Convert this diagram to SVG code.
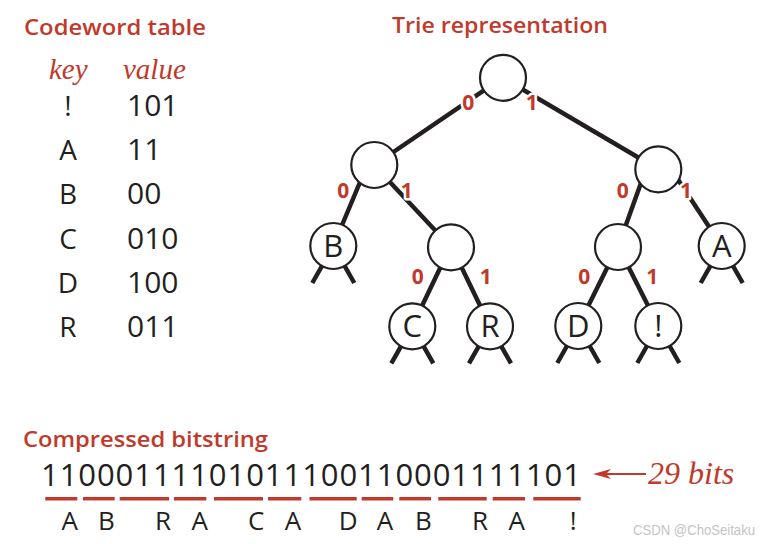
<svg xmlns="http://www.w3.org/2000/svg" width="766" height="544" viewBox="0 0 766 544">
<style>
.title{font-family:"Open Sans","Noto Sans",sans-serif;font-weight:600;font-size:22px;fill:#c0392b}
.ital{font-family:"Liberation Serif",serif;font-style:italic;fill:#c0392b}
.body{font-family:"Open Sans","Noto Sans",sans-serif;fill:#231f20}
.lbl{font-family:"Open Sans","Noto Sans",sans-serif;font-weight:700;font-size:21px;fill:#c0392b;stroke:#fff;stroke-width:5;paint-order:stroke;stroke-linejoin:round;text-anchor:middle}
.edge{stroke:#231f20;stroke-width:4.5;fill:none}
.node{fill:#fff;stroke:#231f20;stroke-width:2.2}
.nl{font-family:"Open Sans","Noto Sans",sans-serif;font-size:31px;fill:#231f20;text-anchor:middle}
.ul{stroke:#c0392b;stroke-width:3.5}
.lt{font-family:"Open Sans","Noto Sans",sans-serif;font-size:26px;fill:#231f20;text-anchor:middle}
</style>
<rect width="766" height="544" fill="#fff"/>

<g id="codeword-table">
<text class="title" x="24" y="35" textLength="182" lengthAdjust="spacingAndGlyphs">Codeword table</text>
<text class="ital" x="49" y="79" font-size="29">key</text>
<text class="ital" x="123" y="79" font-size="29">value</text>
<g class="body" font-size="28">
<text x="68" y="116" text-anchor="middle">!</text><text x="127" y="116" font-size="30">101</text>
<text x="68" y="159.5" text-anchor="middle">A</text><text x="127" y="159.5" font-size="30">11</text>
<text x="68" y="204" text-anchor="middle">B</text><text x="127" y="204" font-size="30">00</text>
<text x="68" y="248.5" text-anchor="middle">C</text><text x="127" y="248.5" font-size="30">010</text>
<text x="68" y="293" text-anchor="middle">D</text><text x="127" y="293" font-size="30">100</text>
<text x="68" y="337" text-anchor="middle">R</text><text x="127" y="337" font-size="30">011</text>
</g>
</g>

<text class="title" x="392" y="33" textLength="216" lengthAdjust="spacingAndGlyphs">Trie representation</text>

<g id="connectors">
<line class="edge" x1="502.7" y1="77.7" x2="374.3" y2="165"/>
<line class="edge" x1="502.7" y1="77.7" x2="658.3" y2="169.3"/>
<line class="edge" x1="363" y1="175" x2="333.3" y2="246"/>
<line class="edge" x1="388" y1="180" x2="451" y2="247.3"/>
<line class="edge" x1="646" y1="169" x2="618" y2="247"/>
<line class="edge" x1="675" y1="175" x2="721.7" y2="246"/>
<line class="edge" x1="443" y1="262" x2="412.3" y2="326.3"/>
<line class="edge" x1="459" y1="262" x2="490" y2="326.3"/>
<line class="edge" x1="610" y1="262" x2="578.3" y2="326"/>
<line class="edge" x1="626" y1="262" x2="658.3" y2="326"/>
<path class="edge" d="M333.3 246 l-21 37 M333.3 246 l21 37 M721.7 246 l-21 37 M721.7 246 l21 37 M412.3 326.3 l-21 37 M412.3 326.3 l21 37 M490 326.3 l-21 37 M490 326.3 l21 37 M578.3 326 l-21 37 M578.3 326 l21 37 M658.3 326 l-21 37 M658.3 326 l21 37"/>
</g>

<g id="node-root"><circle class="node" cx="503" cy="77.8" r="23"/></g>
<g id="node-0"><circle class="node" cx="374.3" cy="165" r="23"/></g>
<g id="node-1"><circle class="node" cx="658.3" cy="169.3" r="23"/></g>
<g id="node-B"><circle class="node" cx="333.3" cy="246" r="23"/><text class="nl" x="333.3" y="257">B</text></g>
<g id="node-01"><circle class="node" cx="451" cy="247.3" r="23"/></g>
<g id="node-10"><circle class="node" cx="618" cy="247" r="23"/></g>
<g id="node-A"><circle class="node" cx="721.7" cy="246" r="23"/><text class="nl" x="721.7" y="257">A</text></g>
<g id="node-C"><circle class="node" cx="412.3" cy="326.3" r="23"/><text class="nl" x="412.3" y="337.3">C</text></g>
<g id="node-R"><circle class="node" cx="490" cy="326.3" r="23"/><text class="nl" x="490" y="337.3">R</text></g>
<g id="node-D"><circle class="node" cx="578.3" cy="326" r="23"/><text class="nl" x="578.3" y="337">D</text></g>
<g id="node-excl"><circle class="node" cx="658.3" cy="326" r="23"/><text class="nl" x="658.3" y="337">!</text></g>

<g id="edge-labels">
<text class="lbl" x="468.3" y="110">0</text>
<text class="lbl" x="531.7" y="110">1</text>
<text class="lbl" x="343.3" y="198.2">0</text>
<text class="lbl" x="406.7" y="198.2">1</text>
<text class="lbl" x="622.7" y="198.2">0</text>
<text class="lbl" x="686" y="198.2">1</text>
<text class="lbl" x="417.7" y="284.2">0</text>
<text class="lbl" x="485.7" y="284.2">1</text>
<text class="lbl" x="584.3" y="284.2">0</text>
<text class="lbl" x="652.3" y="284.2">1</text>
</g>

<g id="bitstring">
<text class="title" x="23" y="447" textLength="245" lengthAdjust="spacingAndGlyphs">Compressed bitstring</text>
<text class="body" x="41" y="486" font-size="31" textLength="540" lengthAdjust="spacing">11000111101011100110001111101</text>
<g class="ul">
<line x1="45.3" y1="498.7" x2="77.3" y2="498.7"/>
<line x1="83" y1="498.7" x2="114.7" y2="498.7"/>
<line x1="119.7" y1="498.7" x2="169" y2="498.7"/>
<line x1="174" y1="498.7" x2="206.3" y2="498.7"/>
<line x1="214" y1="498.7" x2="263" y2="498.7"/>
<line x1="268" y1="498.7" x2="301.3" y2="498.7"/>
<line x1="309.5" y1="498.7" x2="356.7" y2="498.7"/>
<line x1="361.7" y1="498.7" x2="393.3" y2="498.7"/>
<line x1="399.3" y1="498.7" x2="431" y2="498.7"/>
<line x1="438.3" y1="498.7" x2="486.7" y2="498.7"/>
<line x1="492.7" y1="498.7" x2="525" y2="498.7"/>
<line x1="533.3" y1="498.7" x2="580.7" y2="498.7"/>
</g>
<text class="lt" x="69.7" y="530">A</text>
<text class="lt" x="106.3" y="530">B</text>
<text class="lt" x="163" y="530">R</text>
<text class="lt" x="199.7" y="530">A</text>
<text class="lt" x="256.3" y="530">C</text>
<text class="lt" x="293" y="530">A</text>
<text class="lt" x="348.3" y="530">D</text>
<text class="lt" x="385" y="530">A</text>
<text class="lt" x="423.3" y="530">B</text>
<text class="lt" x="480" y="530">R</text>
<text class="lt" x="516.7" y="530">A</text>
<text class="lt" x="573.3" y="530">!</text>
<line x1="604" y1="474" x2="646" y2="474" stroke="#c0392b" stroke-width="2"/>
<polygon points="593,474 611,469 606,474 611,479" fill="#c0392b"/>
<text class="ital" x="648" y="484" font-size="32">29 bits</text>
</g>

<text x="633" y="535" font-family="Liberation Sans, sans-serif" font-size="14" fill="#c4c4c4" textLength="122" lengthAdjust="spacingAndGlyphs">CSDN @ChoSeitaku</text>
</svg>
